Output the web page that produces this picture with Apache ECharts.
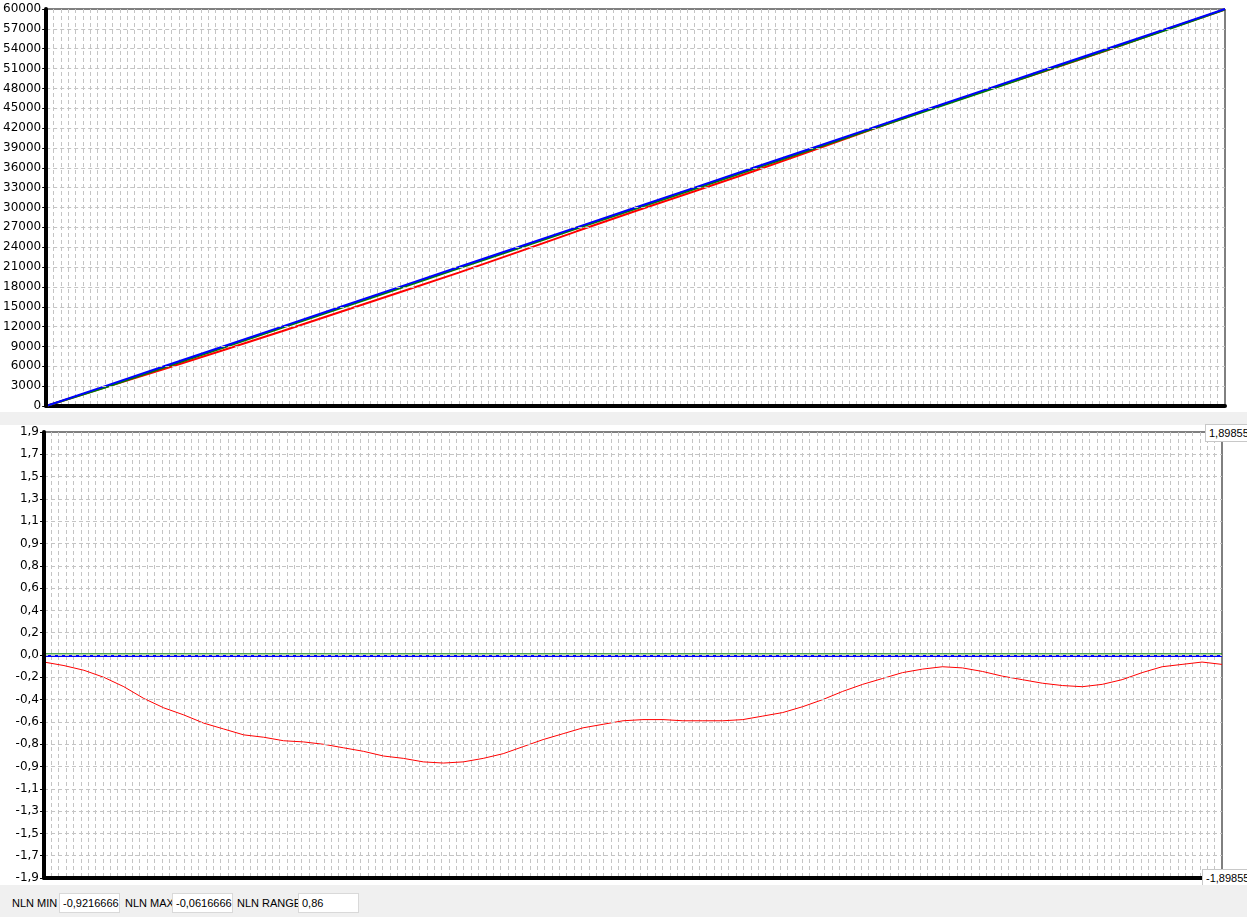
<!DOCTYPE html>
<html>
<head>
<meta charset="utf-8">
<script src="https://cdn.jsdelivr.net/npm/echarts@6/dist/echarts.min.js"></script>
<style>
html,body{margin:0;padding:0;background:#f0f0f0;width:1247px;height:917px;overflow:hidden;font-family:"Liberation Sans",sans-serif;}
#top{position:absolute;left:0;top:0;width:1247px;height:412px;background:#fff;}
#bot{position:absolute;left:0;top:425px;width:1247px;height:460px;background:#fff;}
.vbox{position:absolute;background:#fff;border:1px solid #c8c8c8;font-size:11px;color:#000;line-height:16px;padding:0 3px;white-space:nowrap;overflow:hidden;}
#status{position:absolute;left:0;top:885px;width:1247px;height:32px;background:#f0f0f0;font-size:11px;color:#000;}
.lbl{position:absolute;top:8px;line-height:20px;white-space:nowrap;}
.box{position:absolute;top:8px;height:20px;background:#fff;border:1px solid #d9d9d9;line-height:19px;padding-left:3px;overflow:hidden;white-space:nowrap;box-sizing:border-box;}
</style>
</head>
<body>
<div id="top"></div>
<div id="bot"></div>
<div class="vbox" style="left:1205px;top:424px;width:50px;">1,89855</div>
<div class="vbox" style="left:1202px;top:869px;width:50px;">-1,89855</div>
<div id="status">
  <span class="lbl" style="left:12px;">NLN MIN</span>
  <div class="box" style="left:59px;width:61px;">-0,9216666</div>
  <span class="lbl" style="left:125px;">NLN MAX</span>
  <div class="box" style="left:172px;width:61px;">-0,0616666</div>
  <span class="lbl" style="left:237px;">NLN RANGE</span>
  <div class="box" style="left:298px;width:61px;">0,86</div>
</div>
<script>
// ---- data ----
// top chart: 21 samples
var topBlue  = [0,3000,6000,9000,12000,15000,18000,21000,24000,27000,30000,33000,36000,39000,42000,45000,48000,51000,54000,57000,60000];
var topGreen = [0,2800,5800,8800,11800,14800,17800,20800,23800,26800,29800,32800,35800,38800,41800,44800,47800,50800,53800,56800,59900];
var topRed   = [0,2820,5600,8420,11300,14250,17200,20150,23250,26400,29480,32460,35480,38600,41780,44900,47860,50770,53770,56900,59920];
// bottom chart: 60 samples of non-linearity
var nlRed = [-0.06,-0.09,-0.13,-0.19,-0.27,-0.37,-0.45,-0.51,-0.58,-0.63,
             -0.68,-0.70,-0.73,-0.74,-0.76,-0.79,-0.82,-0.86,-0.88,-0.91,
             -0.92,-0.91,-0.88,-0.84,-0.78,-0.72,-0.67,-0.62,-0.59,-0.56,
             -0.55,-0.55,-0.56,-0.56,-0.56,-0.55,-0.52,-0.49,-0.44,-0.38,
             -0.31,-0.25,-0.20,-0.15,-0.12,-0.10,-0.11,-0.14,-0.18,-0.21,
             -0.24,-0.26,-0.27,-0.25,-0.21,-0.15,-0.10,-0.08,-0.06,-0.08];
var nlBlue  = [-0.008,-0.008];
var nlGreen = [0.01,0.01];
var topMax = 60000, topInterval = 3000;
var botMax = 1.89855, botInterval = 0.189855;
var gridDivisions = 160;

function pairs(arr){ return arr.map(function(v,i){ return [i, v]; }); }

var dashGrid = {show:true, showMinLine:false, showMaxLine:false, lineStyle:{color:'#c4c4c4', type:[4,3], width:1}};
var labelStyle = {color:'#000', fontFamily:'DejaVu Sans', fontSize:12, margin:5};

function gridXAxis(){
  return {
    type:'value', min:0, max:gridDivisions, interval:1, z:1,
    axisLine:{show:true, onZero:false, lineStyle:{color:'#000', width:4}},
    axisTick:{show:false}, axisLabel:{show:false},
    splitLine:dashGrid
  };
}
function valueYAxis(min, max, interval, fmt){
  return {
    type:'value', min:min, max:max, interval:interval, z:5,
    axisLine:{show:true, onZero:false, lineStyle:{color:'#000', width:4}},
    axisTick:{show:true, length:4, lineStyle:{color:'#000'}},
    minorTick:{show:true, splitNumber:2, length:2, lineStyle:{color:'#000'}},
    axisLabel:Object.assign({}, labelStyle, {formatter:fmt}),
    splitLine:dashGrid
  };
}

var topChart = echarts.init(document.getElementById('top'), null, {renderer:'canvas'});
topChart.setOption({
  animation:false,
  grid:{left:44, top:9, right:22, bottom:6, show:true, borderColor:'#000', borderWidth:1, backgroundColor:'transparent'},
  xAxis:[gridXAxis(), {type:'value', show:false, position:'top', min:0, max:topBlue.length-1}],
  yAxis:valueYAxis(0, topMax, topInterval, function(v){ return String(Math.round(v)); }),
  series:[
    {type:'line', xAxisIndex:1, data:pairs(topRed), showSymbol:false, lineStyle:{color:'#ff0000', width:2}},
    {type:'line', xAxisIndex:1, data:pairs(topGreen), showSymbol:false, lineStyle:{color:'#008000', width:2}},
    {type:'line', xAxisIndex:1, data:pairs(topBlue), showSymbol:false, lineStyle:{color:'#0000ff', width:2}}
  ]
});

var botChart = echarts.init(document.getElementById('bot'), null, {renderer:'canvas'});
botChart.setOption({
  animation:false,
  grid:{left:44, top:7, right:25, bottom:7, show:true, borderColor:'#000', borderWidth:1, backgroundColor:'transparent'},
  xAxis:[gridXAxis(),
    {type:'value', show:false, position:'top', min:0, max:nlRed.length-1},
    {type:'value', show:false, position:'top', min:0, max:1}],
  yAxis:valueYAxis(-botMax, botMax, botInterval, function(v){
      if (Math.abs(v) < 1e-9) v = 0;
      return v.toFixed(1).replace('.', ',');
  }),
  series:[
    {type:'line', xAxisIndex:1, data:pairs(nlRed), showSymbol:false, lineStyle:{color:'#ff0000', width:1}},
    {type:'line', xAxisIndex:2, data:pairs(nlBlue), showSymbol:false, lineStyle:{color:'#0000ff', width:2}},
    {type:'line', xAxisIndex:2, data:pairs(nlGreen), showSymbol:false, lineStyle:{color:'#008000', width:1}}
  ]
});
</script>
</body>
</html>
